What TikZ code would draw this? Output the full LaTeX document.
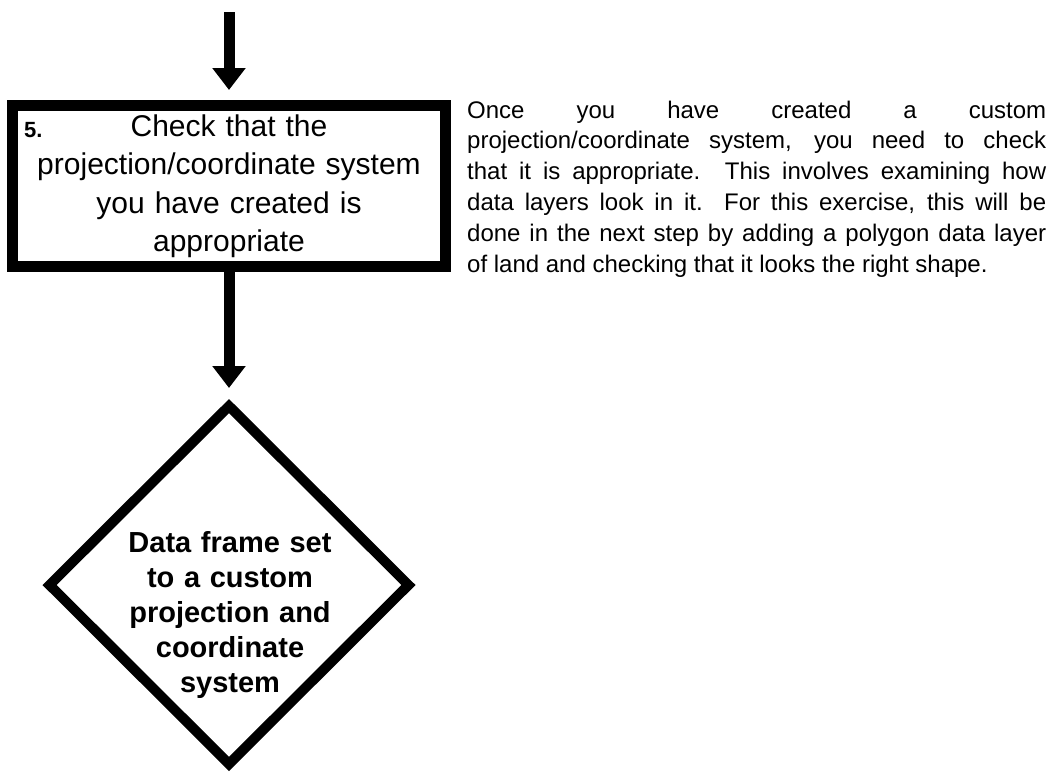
\documentclass[tikz,border=0pt]{standalone}
\usepackage{fontspec}
\setmainfont{Liberation Sans}
\usetikzlibrary{arrows.meta,shapes.geometric}
\hbadness=10000
\hyphenpenalty=10000

\begin{document}
\begin{tikzpicture}[x=1pt,y=-1pt,
flow/.style={line width=11pt,-{Triangle[width=32pt,length=22pt]}},
stepbox/.style={draw,line width=11pt,minimum width=433pt,minimum height=161pt,inner sep=0pt,text width=425pt,align=center,font=\fontsize{30}{38.5}\selectfont},
decision/.style={draw,diamond,line width=10pt,minimum width=363pt,minimum height=362pt,inner sep=0pt},
dtext/.style={inner sep=0pt,text width=240pt,align=center,font=\bfseries\fontsize{29}{35}\selectfont},
note/.style={inner sep=0pt,text width=579pt,align=justify,font=\fontsize{24}{30.8}\selectfont}]
\useasboundingbox (0,0) rectangle (1051,774);

\coordinate (S) at (229,12);

\node[stepbox] (B) at (229,186) {Check that the\\ projection/coordinate system\\ you have created is\\ appropriate};
\node[anchor=base west,inner sep=0pt,font=\bfseries\fontsize{22}{26}\selectfont] (N) at (24,137) {5.};

\node[decision] (D) at (229,585) {};
\node[dtext] (L) at (230,615) {Data frame set\\ to a custom\\ projection and\\ coordinate\\ system};

\node[note,anchor=north west] (P) at (467,100.5) {Once you have created a custom\linebreak
projection/coordinate system, you need to check\linebreak
that it is appropriate.  This involves examining how\linebreak
data layers look in it.  For this exercise, this will be\linebreak
done in the next step by adding a polygon data layer\linebreak
of land and checking that it looks the right shape.};

\draw[flow] (S) -- ([yshift=10pt]B.north);
\draw[flow] (B.south) -- ([yshift=11pt]D.north);

\end{tikzpicture}
\end{document}
